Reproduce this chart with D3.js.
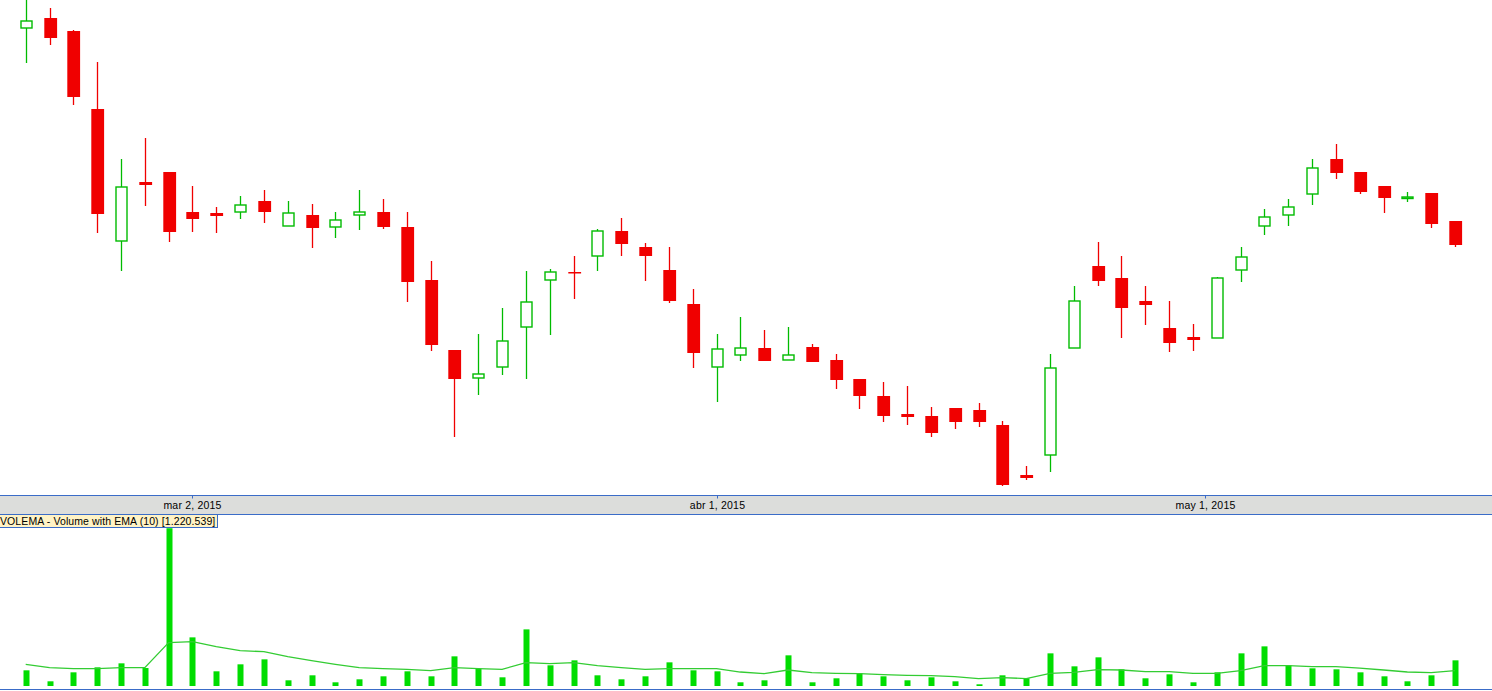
<!DOCTYPE html>
<html>
<head>
<meta charset="utf-8">
<script src="https://cdn.jsdelivr.net/npm/d3@7"></script>
<style>
  html, body { margin: 0; padding: 0; background: #fff; overflow: hidden; }
  svg { display: block; }
  text { font-family: "Liberation Sans", Arial, sans-serif; }
</style>
</head>
<body>
<svg id="chart"></svg>
<script>
// daily OHLC, 19 feb 2015 -> 18 may 2015 (one entry per session)
var opens  = [9.72, 9.82, 9.69, 8.91, 7.59, 8.18, 8.28, 7.88, 7.87, 7.88, 7.99, 7.74, 7.85, 7.73, 7.85, 7.88,
              7.73, 7.20, 6.50, 6.22, 6.33, 6.73, 7.20, 7.28, 7.44, 7.69, 7.53, 7.30, 6.96, 6.33, 6.45, 6.52,
              6.40, 6.53, 6.40, 6.21, 6.04, 5.86, 5.84, 5.92, 5.90, 5.75, 5.25, 5.45, 6.52, 7.34, 7.22, 6.99,
              6.72, 6.63, 6.62, 7.30, 7.74, 7.85, 8.06, 8.41, 8.28, 8.14, 8.02, 8.07, 7.79];
var highs  = [10.00, 9.92, 9.70, 9.38, 8.41, 8.62, 8.28, 8.14, 7.93, 8.04, 8.10, 7.99, 7.96, 7.88, 8.10, 8.01,
              7.88, 7.39, 6.50, 6.66, 6.92, 7.29, 7.31, 7.44, 7.71, 7.82, 7.57, 7.53, 7.11, 6.66, 6.83, 6.70,
              6.73, 6.56, 6.46, 6.21, 6.18, 6.14, 5.93, 5.92, 5.97, 5.79, 5.34, 6.46, 7.14, 7.58, 7.44, 7.14,
              6.99, 6.76, 7.23, 7.53, 7.91, 8.01, 8.41, 8.56, 8.28, 8.14, 8.08, 8.07, 7.79];
var lows   = [9.37, 9.55, 8.95, 7.67, 7.29, 7.94, 7.58, 7.68, 7.67, 7.81, 7.77, 7.74, 7.52, 7.62, 7.70, 7.71,
              6.98, 6.49, 5.63, 6.05, 6.25, 6.21, 6.65, 7.01, 7.29, 7.44, 7.19, 6.97, 6.32, 5.98, 6.39, 6.39,
              6.40, 6.38, 6.11, 5.91, 5.78, 5.75, 5.63, 5.71, 5.73, 5.14, 5.20, 5.28, 6.52, 7.14, 6.62, 6.75,
              6.48, 6.49, 6.62, 7.18, 7.65, 7.74, 7.95, 8.21, 8.06, 7.87, 7.98, 7.72, 7.53];
var closes = [9.79, 9.62, 9.03, 7.86, 8.13, 8.15, 7.68, 7.81, 7.84, 7.95, 7.88, 7.87, 7.72, 7.80, 7.88, 7.73,
              7.18, 6.55, 6.21, 6.26, 6.59, 6.98, 7.28, 7.27, 7.69, 7.56, 7.44, 6.99, 6.47, 6.51, 6.52, 6.39,
              6.45, 6.38, 6.20, 6.04, 5.84, 5.83, 5.67, 5.78, 5.78, 5.15, 5.22, 6.32, 6.99, 7.19, 6.92, 6.95,
              6.57, 6.60, 7.22, 7.43, 7.83, 7.93, 8.32, 8.27, 8.08, 8.02, 8.03, 7.76, 7.55];

// volume (thousands of shares) and its EMA(10)
var volumes = [1245, 373, 1086, 1483, 1800, 1427, 12530, 3862, 1166, 1721, 2117, 452, 849, 293, 531, 769,
               1166, 769, 2355, 1372, 690, 4496, 1642, 2038, 849, 531, 769, 1879, 1245, 1166, 293, 452,
               2435, 293, 611, 1007, 769, 452, 690, 373, 135, 849, 611, 2593, 1562, 2276, 1324, 611,
               928, 293, 1086, 2593, 3148, 1642, 1404, 1324, 1086, 769, 373, 849, 2038];
var volEma = [1721, 1459, 1380, 1380, 1459, 1459, 3442, 3521, 3124, 2807, 2728, 2331, 2014, 1721, 1459, 1380,
              1324, 1221, 1459, 1380, 1324, 1856, 1776, 1856, 1618, 1459, 1324, 1380, 1380, 1380, 1110, 983,
              1269, 1063, 1007, 983, 904, 849, 825, 745, 587, 666, 587, 1007, 1086, 1301, 1269, 1142,
              1142, 1007, 1007, 1221, 1618, 1618, 1538, 1538, 1427, 1269, 1110, 1063, 1221];

// date labels on the time strip (position in sessions; may 1 falls between sessions)
var tickPos    = [7, 29, 49.5];
var tickLabels = ["mar 2, 2015", "abr 1, 2015", "may 1, 2015"];

var volumeLabel = "VOLEMA - Volume with EMA (10) [1.220.539]";

var width = 1492;
var height = 691;

var upColor = "#00bb00";
var downColor = "#f00000";
var volColor = "#00dd00";
var emaColor = "#33cc33";
var frameBlue = "#3a6cc8";

var data = opens.map(function(o, i) {
	return {i: i, open: o, high: highs[i], low: lows[i], close: closes[i], vol: volumes[i], ema: volEma[i]};
});

var svg = d3.select("#chart")
	.attr("width", width)
	.attr("height", height);

var x = d3.scaleLinear()
	.domain([0, data.length - 1])
	.range([25.7, 1455]);

var y = d3.scaleLinear()
	.domain([5.05, 10.00])
	.range([495, 0]);

var yVol = d3.scaleLinear()
	.domain([0, 13500])
	.range([686, 516]);

var bodyW = 12;

// price panel
var candles = svg.append("g").attr("class", "candles")
	.selectAll("g")
	.data(data)
	.enter()
	.append("g");

candles.append("line")
	.attr("x1", d => Math.round(x(d.i)) + 0.5)
	.attr("x2", d => Math.round(x(d.i)) + 0.5)
	.attr("y1", d => y(d.high))
	.attr("y2", d => y(d.low))
	.attr("stroke", d => d.close >= d.open ? upColor : downColor)
	.attr("stroke-width", 1.3);

candles.append("rect")
	.attr("x", function(d) {
		var cx = Math.round(x(d.i)) + 0.5;
		return d.close >= d.open ? cx - bodyW / 2 + 0.5 : cx - bodyW / 2 - 0.2;
	})
	.attr("y", d => y(Math.max(d.open, d.close)))
	.attr("width", d => d.close >= d.open ? bodyW - 1 : bodyW + 0.8)
	.attr("height", d => Math.max(1.5, Math.abs(y(d.open) - y(d.close))))
	.attr("fill", d => d.close >= d.open ? "#fff" : downColor)
	.attr("stroke", d => d.close >= d.open ? upColor : "none")
	.attr("stroke-width", 1.4);

// time strip
svg.append("rect")
	.attr("x", 0).attr("y", 495)
	.attr("width", width).attr("height", 19)
	.attr("fill", "#dcdddb");

svg.append("line")
	.attr("x1", 0).attr("x2", width)
	.attr("y1", 495.5).attr("y2", 495.5)
	.attr("stroke", frameBlue);

svg.append("line")
	.attr("x1", 0).attr("x2", width)
	.attr("y1", 514.5).attr("y2", 514.5)
	.attr("stroke", frameBlue);

var ticks = svg.append("g").selectAll("g")
	.data(tickPos)
	.enter()
	.append("g")
	.attr("transform", d => "translate(" + (Math.round(x(d)) + 0.5) + ",0)");

ticks.append("line")
	.attr("y1", 495).attr("y2", 498.5)
	.attr("stroke", frameBlue);

ticks.append("text")
	.attr("y", 509)
	.attr("text-anchor", "middle")
	.style("font-size", "10.5px")
	.style("letter-spacing", "0.2px")
	.attr("fill", "#000")
	.text((d, i) => tickLabels[i]);

// volume panel
svg.append("g").selectAll("rect")
	.data(data)
	.enter()
	.append("rect")
	.attr("x", d => Math.round(x(d.i)) - 2.5)
	.attr("y", d => yVol(d.vol))
	.attr("width", 6)
	.attr("height", d => yVol(0) - yVol(d.vol))
	.attr("fill", volColor);

var emaLine = d3.line()
	.x(d => x(d.i))
	.y(d => yVol(d.ema));

svg.append("path")
	.datum(data)
	.attr("d", emaLine)
	.attr("fill", "none")
	.attr("stroke", emaColor)
	.attr("stroke-width", 1.3);

svg.append("line")
	.attr("x1", 0).attr("x2", width)
	.attr("y1", 689.5).attr("y2", 689.5)
	.attr("stroke", frameBlue);

// indicator caption
svg.append("rect")
	.attr("x", -1).attr("y", 514.5)
	.attr("width", 218.5).attr("height", 13)
	.attr("fill", "#fff3c6")
	.attr("stroke", frameBlue);

svg.append("text")
	.attr("x", 0).attr("y", 525)
	.style("font-size", "10.5px")
	.style("letter-spacing", "0.1px")
	.attr("fill", "#000")
	.text(volumeLabel);
</script>
</body>
</html>
